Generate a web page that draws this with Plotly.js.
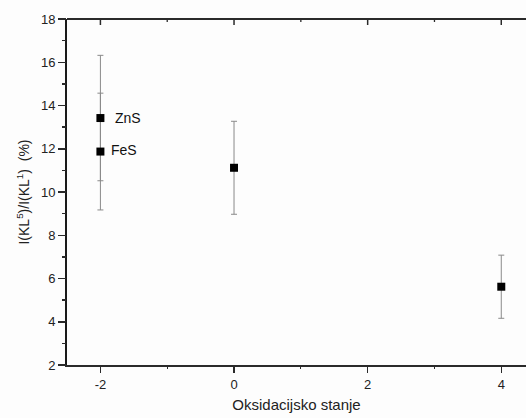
<!DOCTYPE html>
<html>
<head>
<meta charset="utf-8">
<script src="https://cdn.plot.ly/plotly-3.0.1.min.js"></script>
<style>html,body{margin:0;padding:0;background:#fff;overflow:hidden;}</style>
</head>
<body>
<div id="chart" style="width:526px;height:418px;"></div>
<script>
// Data
var oxidationStates = [-2, -2, 0, 4];
var ratioValues = [13.42, 11.87, 11.12, 5.62];
var ratioErrors = [2.9, 2.7, 2.15, 1.46];
var compoundLabels = ['ZnS', 'FeS'];
var compoundX = [-2, -2];
var compoundY = [13.42, 11.87];
var xTickVals = [-2, 0, 2, 4];
var xTickText = ['-2', '0', '2', '4'];
var xMinorTickVals = [-1, 1, 3];
var yTickVals = [2, 4, 6, 8, 10, 12, 14, 16, 18];

var font = 'Liberation Sans, Arial, sans-serif';
var axisColor = '#2a2a2a';
var xRange = [-2.5, 4.37];
var yRange = [2, 18];

function ghost(xa, ya) {
  return {x: oxidationStates, y: ratioValues, xaxis: xa, yaxis: ya, type: 'scatter', mode: 'markers',
          marker: {opacity: 0, size: 1}, showlegend: false, hoverinfo: 'skip'};
}

var traces = [
  {
    x: oxidationStates,
    y: ratioValues,
    type: 'scatter',
    mode: 'markers',
    marker: {symbol: 'square', size: 8, color: '#000'},
    error_y: {type: 'data', array: ratioErrors, visible: true, color: '#8a8a8a', thickness: 1, width: 3},
    showlegend: false,
    hoverinfo: 'x+y'
  },
  ghost('x2', 'y'), ghost('x', 'y2')
];

var annotations = compoundLabels.map(function (t, i) {
  return {
    x: compoundX[i], y: compoundY[i], xref: 'x', yref: 'y',
    text: t, showarrow: false, xanchor: 'left', yanchor: 'middle',
    xshift: i === 0 ? 13 : 9, yshift: i === 0 ? 0 : 2,
    font: {family: font, size: 14, color: '#111'}
  };
});

// frame line on top plus inward ticks hanging from it (placed via the x scale)
var shapes = [
  {type: 'line', xref: 'paper', yref: 'paper', x0: 0, x1: 1, y0: 1, y1: 1,
   line: {color: axisColor, width: 2}, layer: 'above'}
];
function topTick(v, len, w) {
  return {type: 'line', xref: 'x', yref: 'paper', ysizemode: 'pixel', yanchor: 1,
          x0: v, x1: v, y0: 0, y1: -len, line: {color: axisColor, width: w}, layer: 'above'};
}
xTickVals.forEach(function (v) { shapes.push(topTick(v, 6, 1.5)); });
xMinorTickVals.forEach(function (v) { shapes.push(topTick(v, 3, 1.3)); });

var layout = {
  width: 526, height: 418,
  margin: {l: 67, r: 0, t: 19, b: 53, pad: 0},
  paper_bgcolor: '#fdfdfd', plot_bgcolor: '#fdfdfd',
  showlegend: false,
  xaxis: {
    range: xRange, tickmode: 'array', tickvals: xTickVals, ticktext: xTickText,
    ticks: 'outside', ticklen: 6, tickwidth: 1.5, tickcolor: axisColor,
    showline: true, linecolor: axisColor, linewidth: 2,
    showgrid: false, zeroline: false,
    tickfont: {family: font, size: 13, color: '#222'},
    title: {text: 'Oksidacijsko stanje', font: {family: font, size: 15, color: '#222'}, standoff: 9}
  },
  xaxis2: {
    overlaying: 'x', anchor: 'y', side: 'bottom', range: xRange,
    tickmode: 'linear', tick0: 0, dtick: 1,
    ticks: 'outside', ticklen: 3, tickwidth: 1.3, tickcolor: axisColor,
    showticklabels: false, showline: false, showgrid: false, zeroline: false
  },
  yaxis: {
    range: yRange, tickmode: 'array', tickvals: yTickVals,
    ticks: 'outside', ticklen: 7, tickwidth: 1.5, tickcolor: axisColor,
    showline: true, linecolor: '#1a1a1a', linewidth: 2,
    showgrid: false, zeroline: false,
    tickfont: {family: font, size: 13, color: '#222'},
    title: {text: 'I(KL<sup>5</sup>)/I(KL<sup>1</sup>)  (%)', font: {family: font, size: 14, color: '#222'}, standoff: 8}
  },
  yaxis2: {
    overlaying: 'y', anchor: 'x', side: 'left', range: yRange,
    tickmode: 'linear', tick0: 2, dtick: 1,
    ticks: 'outside', ticklen: 4, tickwidth: 1.3, tickcolor: axisColor,
    showticklabels: false, showline: false, showgrid: false, zeroline: false
  },
  shapes: shapes,
  annotations: annotations
};

Plotly.newPlot('chart', traces, layout, {displayModeBar: false, staticPlot: true});
</script>
</body>
</html>
